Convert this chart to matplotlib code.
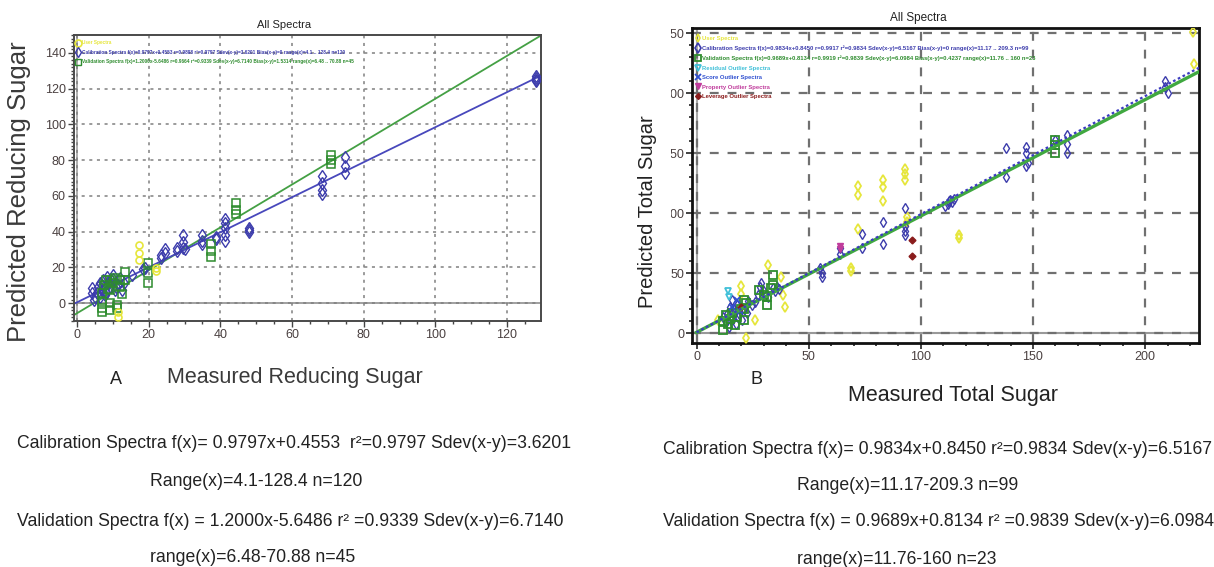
import matplotlib
matplotlib.use("Agg")
import matplotlib.pyplot as plt
from matplotlib import font_manager
from matplotlib.ticker import MultipleLocator
from matplotlib.lines import Line2D
from matplotlib.patches import Rectangle

plt.rcParams['font.family'] = ['Liberation Sans', 'DejaVu Sans']
_names = {f.name for f in font_manager.fontManager.ttflist}
NARROW = 'Liberation Sans Narrow' if 'Liberation Sans Narrow' in _names else 'Liberation Sans'

# ---- A: reducing sugar ----
calA_x = [4.1, 4.6, 5.0, 5.5, 6.4, 6.4, 6.9, 7.3, 7.8, 8.3, 8.7, 9.2, 9.6, 10.1, 10.6, 11.5,
          12.0, 12.5, 4.1, 5.8, 7.0, 8.0, 9.0, 10.0, 11.0, 13.0, 15.3, 18.5, 19.0, 23.4, 23.4,
          24.6, 24.6, 28.0, 28.0, 29.6, 29.6, 29.6, 30.0, 34.9, 34.9, 34.9, 38.9, 38.9, 41.3,
          41.3, 41.3, 41.3, 41.3, 48.0, 48.0, 48.0, 68.3, 68.3, 68.3, 68.3, 74.7, 74.7, 74.7,
          128.0, 128.0, 128.0, 128.0]
calA_y = [8.2, 1.7, 3.6, 5.4, 11.0, 3.5, 7.3, 12.9, 4.5, 14.7, 11.9, 9.1, 12.9, 15.7, 7.3, 10.0,
          13.8, 7.3, 5.4, 9.0, 10.0, 6.0, 11.0, 13.5, 9.0, 11.0, 16.0, 19.0, 19.6, 25.0, 27.0,
          30.0, 28.0, 31.0, 29.0, 38.0, 34.0, 31.0, 30.0, 38.0, 35.0, 33.0, 37.0, 36.0, 47.0,
          45.0, 42.0, 38.0, 35.0, 40.0, 41.0, 42.0, 71.0, 67.0, 63.0, 61.0, 82.0, 76.5, 72.8,
          126.0, 124.0, 127.0, 125.0]
valA_x = [6.9, 6.9, 6.9, 6.9, 7.5, 8.0, 8.5, 9.2, 9.2, 9.2, 9.2, 10.0, 10.5, 11.1, 11.1, 12.0,
          12.0, 12.5, 13.4, 13.4, 19.9, 19.9, 19.9, 37.4, 37.4, 37.4, 44.4, 44.4, 44.4, 70.8,
          70.8, 70.8]
valA_y = [5.4, 0.8, -3.0, -4.9, 10.0, 13.0, 8.0, 12.9, 7.3, -0.2, -3.9, 11.0, 14.0, -1.1, -2.5,
          12.9, 9.0, 5.0, 17.6, 12.9, 22.2, 16.6, 11.0, 33.0, 29.0, 26.0, 56.0, 52.0, 50.0,
          83.0, 80.0, 78.0]
userA_x = [17.3, 17.3, 17.3, 22.0, 22.0, 11.5, 11.5]
userA_y = [32.5, 27.8, 24.1, 19.4, 18.0, -4.9, -8.0]
fitA_cal = (0.9797, 0.4553)
fitA_val = (1.2000, -5.6486)

# ---- B: total sugar ----
calB_x = [12.0, 13.0, 13.5, 14.5, 15.0, 15.7, 16.0, 16.5, 17.0, 17.5, 18.0, 18.6, 19.0, 20.1,
          21.0, 22.4, 23.0, 24.6, 26.0, 27.5, 28.3, 28.8, 29.5, 32.0, 34.0, 35.2, 35.7, 37.0,
          55.0, 56.0, 56.0, 64.0, 64.0, 74.0, 74.0, 83.0, 83.0, 93.0, 93.0, 93.0, 93.0, 111.0,
          112.0, 112.5, 113.0, 114.0, 115.0, 138.0, 138.0, 147.0, 147.0, 147.0, 148.0, 160.0,
          165.0, 165.0, 165.0, 209.0, 209.0, 210.0]
calB_y = [13.8, 9.7, 16.0, 5.5, 22.0, 27.7, 12.0, 20.0, 18.0, 8.0, 24.0, 13.8, 16.5, 11.1,
          20.0, 16.7, 27.0, 23.6, 26.0, 32.0, 38.8, 41.5, 36.0, 30.0, 38.0, 35.2, 38.8, 37.0,
          54.5, 50.0, 47.0, 71.0, 66.0, 83.0, 71.0, 93.0, 74.0, 104.0, 89.0, 85.0, 82.0, 106.0,
          108.0, 110.0, 111.0, 109.0, 112.0, 154.0, 130.0, 155.0, 150.0, 139.0, 142.0, 161.0,
          165.0, 158.0, 150.0, 210.0, 205.0, 200.0]
valB_x = [12.0, 12.0, 13.0, 14.0, 15.0, 16.0, 17.0, 18.0, 20.0, 21.0, 21.0, 21.0, 22.0, 28.0,
          30.0, 31.6, 31.6, 33.0, 34.0, 34.0, 160.0, 160.0, 160.0]
valB_y = [3.0, 10.0, 15.0, 8.0, 12.0, 17.0, 7.0, 14.0, 20.0, 28.0, 20.0, 11.0, 25.0, 36.0,
          32.0, 30.0, 24.0, 38.0, 48.6, 40.0, 161.0, 157.0, 150.0]
userB_x = [9.6, 20.0, 20.0, 22.0, 26.0, 32.0, 37.7, 38.6, 39.5, 69.0, 69.0, 72.0, 72.0, 72.0,
           83.0, 83.0, 83.0, 93.0, 93.0, 93.0, 94.0, 94.0, 117.0, 117.0, 222.0, 221.5]
userB_y = [11.0, 39.0, 33.0, -4.0, 11.0, 57.0, 47.0, 32.0, 22.0, 54.0, 52.0, 123.0, 115.0,
           87.0, 128.0, 122.0, 110.0, 137.0, 133.0, 128.0, 97.0, 93.0, 82.0, 79.0, 224.0, 251.0]
resB_x, resB_y = [14.0, 14.5], [35.0, 30.0]
scoreB_x, scoreB_y = [16.0, 18.0, 19.5], [22.0, 28.0, 19.0]
propB_x, propB_y = [64.0, 64.0], [73.0, 70.0]
levB_x, levB_y = [96.0, 96.0, 20.0], [77.5, 64.0, 22.0]
fitB_cal = (0.9834, 0.8450)
fitB_val = (0.9689, 0.8134)

BLUE, GREEN, YEL = '#3c3cac', '#2e8c2e', '#e6e63c'
CYAN, MAG, DRED = '#40c0d8', '#c03c9c', '#8a1c1c'

fig = plt.figure(figsize=(12.14, 5.67), dpi=100)
axA = fig.add_axes([0.061, 0.4339, 0.3847, 0.5044])
axB = fig.add_axes([0.5704, 0.3956, 0.4172, 0.5545])

# ---------------- panel A ----------------
xa0, xa1 = -0.84, 129.5
axA.set_xlim(xa0, xa1); axA.set_ylim(-10, 150)
axA.axhline(0, color='#999999', lw=1.3, zorder=1)
axA.axvline(0, color='#aaaaaa', lw=1.3, zorder=1)
axA.plot([xa0, xa1], [fitA_val[0] * xa0 + fitA_val[1], fitA_val[0] * xa1 + fitA_val[1]],
         color='#44a044', lw=1.3, zorder=2)
axA.plot([xa0, xa1], [fitA_cal[0] * xa0 + fitA_cal[1], fitA_cal[0] * xa1 + fitA_cal[1]],
         color='#4848bc', lw=1.3, zorder=2)
axA.plot(calA_x, calA_y, ls='none', marker='d', ms=6, mfc='none', mec=BLUE, mew=1.0, zorder=3)
axA.plot(valA_x, valA_y, ls='none', marker='s', ms=6, mfc='none', mec=GREEN, mew=1.1, zorder=3)
axA.plot(userA_x, userA_y, ls='none', marker='o', ms=5, mfc='none', mec=YEL, mew=1.2, zorder=3)
axA.xaxis.set_major_locator(MultipleLocator(20)); axA.xaxis.set_minor_locator(MultipleLocator(5))
axA.yaxis.set_major_locator(MultipleLocator(20)); axA.yaxis.set_minor_locator(MultipleLocator(2))
axA.grid(True, which='major', ls=(0, (2, 3)), color='#808080', lw=1.1)
for s in axA.spines.values():
    s.set_color('#4a4a4a'); s.set_linewidth(1.4)
axA.tick_params(which='major', length=4, width=1, color='#444444', labelsize=9,
                labelcolor='#4a4040', pad=2)
axA.tick_params(which='minor', length=2, width=1, color='#444444')
for t in axA.get_xticklabels() + axA.get_yticklabels():
    t.set_fontfamily(NARROW)
axA.text(0.4497, 1.035, 'All Spectra', transform=axA.transAxes, ha='center', va='center',
         fontsize=8, family=NARROW, color='#222222')
axA.set_ylabel('Predicted Reducing Sugar', fontsize=18.5, color='#3a3a3a', va='center')
axA.yaxis.set_label_coords(-0.1178, 0.451)
axA.set_xlabel('Measured Reducing Sugar', fontsize=15.5, color='#3a3a3a', va='center')
axA.xaxis.set_label_coords(0.472, -0.196)

legA_labels = ['User Spectra',
               'Calibration Spectra f(x)=0.9797x+0.4553 r=0.9898 r\u00b2=0.9797 Sdev(x-y)=3.6201 '
               'Bias(x-y)=0 range(x)=4.1 .. 128.4 n=120',
               'Validation Spectra f(x)=1.2000x-5.6486 r=0.9664 r\u00b2=0.9339 Sdev(x-y)=6.7140 '
               'Bias(x-y)=1.5314 range(x)=6.48 .. 70.88 n=45']
legA_handles = [Line2D([], [], ls='none', marker='o', ms=5, mfc='none', mec=YEL, mew=1.2),
                Line2D([], [], ls='none', marker='d', ms=5, mfc='none', mec=BLUE, mew=1.0),
                Line2D([], [], ls='none', marker='s', ms=5, mfc='none', mec=GREEN, mew=1.0)]
axA.legend(legA_handles, legA_labels, loc='upper left', bbox_to_anchor=(0.0, 0.99),
           frameon=False, handlelength=0.8, handletextpad=0.4,
           labelspacing=0.95, borderaxespad=0.1, labelcolor=[YEL, BLUE, GREEN],
           prop={'weight': 'bold', 'size': 3.4})

# ---------------- panel B ----------------
xb0, xb1 = -1.8, 224
axB.set_xlim(xb0, xb1); axB.set_ylim(-7.8, 254)
axB.axhline(0, color='#999999', lw=1.5, zorder=1)
axB.axvline(0, color='#aaaaaa', lw=1.5, zorder=1)
axB.plot([0, xb1], [fitB_val[1], fitB_val[0] * xb1 + fitB_val[1]], color='#40a840', lw=2.4, zorder=4)
axB.plot([0, xb1], [fitB_cal[1], fitB_cal[0] * xb1 + fitB_cal[1]], color='#3c3cc0', lw=1.6,
         ls=(0, (1.2, 1.2)), zorder=4)
axB.plot(userB_x, userB_y, ls='none', marker='d', ms=5, mfc='none', mec=YEL, mew=1.3, zorder=3)
axB.plot(calB_x, calB_y, ls='none', marker='d', ms=5.5, mfc='none', mec=BLUE, mew=1.0, zorder=3)
axB.plot(valB_x, valB_y, ls='none', marker='s', ms=6, mfc='none', mec=GREEN, mew=1.3, zorder=3)
axB.plot(resB_x, resB_y, ls='none', marker='v', ms=5, mfc='none', mec=CYAN, mew=1.3, zorder=3)
axB.plot(scoreB_x, scoreB_y, ls='none', marker='x', ms=5, mec='#3050d0', mew=1.3, zorder=3)
axB.plot(propB_x, propB_y, ls='none', marker='v', ms=5, mfc=MAG, mec=MAG, zorder=3)
axB.plot(levB_x, levB_y, ls='none', marker='D', ms=3.5, mfc=DRED, mec=DRED, zorder=3)
axB.xaxis.set_major_locator(MultipleLocator(50)); axB.xaxis.set_minor_locator(MultipleLocator(10))
axB.yaxis.set_major_locator(MultipleLocator(50)); axB.yaxis.set_minor_locator(MultipleLocator(10))
axB.grid(True, which='major', ls=(0, (4, 4)), color='#707070', lw=1.6)
for s in axB.spines.values():
    s.set_color('#111111'); s.set_linewidth(2.0)
axB.tick_params(which='major', length=4, width=1.2, color='#222222', labelsize=9,
                labelcolor='#4a4040', pad=2)
axB.tick_params(which='minor', length=2.5, width=1.2, color='#222222')
for t in axB.get_xticklabels() + axB.get_yticklabels():
    t.set_fontfamily(NARROW)
axB.text(0.445, 1.033, 'All Spectra', transform=axB.transAxes, ha='center', va='center',
         fontsize=8.5, family=NARROW, color='#222222')
axB.set_ylabel('Predicted Total Sugar', fontsize=14.5, color='#222222', va='center')
axB.yaxis.set_label_coords(-0.0879, 0.4157)
axB.set_xlabel('Measured Total Sugar', fontsize=15.5, color='#222222', va='center')
axB.xaxis.set_label_coords(0.514, -0.1695)

legB_labels = ['User Spectra',
               'Calibration Spectra f(x)=0.9834x+0.8450 r=0.9917 r\u00b2=0.9834 Sdev(x-y)=6.5167 '
               'Bias(x-y)=0 range(x)=11.17 .. 209.3 n=99',
               'Validation Spectra f(x)=0.9689x+0.8134 r=0.9919 r\u00b2=0.9839 Sdev(x-y)=6.0984 '
               'Bias(x-y)=0.4237 range(x)=11.76 .. 160 n=23',
               'Residual Outlier Spectra', 'Score Outlier Spectra',
               'Property Outlier Spectra', 'Leverage Outlier Spectra']
legB_handles = [Line2D([], [], ls='none', marker='d', ms=4, mfc='none', mec=YEL, mew=1.2),
                Line2D([], [], ls='none', marker='d', ms=5, mfc='none', mec=BLUE, mew=1.2),
                Line2D([], [], ls='none', marker='s', ms=5, mfc='none', mec=GREEN, mew=1.3),
                Line2D([], [], ls='none', marker='v', ms=5, mfc='none', mec=CYAN, mew=1.3),
                Line2D([], [], ls='none', marker='x', ms=5, mec='#3050d0', mew=1.3),
                Line2D([], [], ls='none', marker='v', ms=5, mfc=MAG, mec=MAG),
                Line2D([], [], ls='none', marker='D', ms=3, mfc=DRED, mec=DRED)]
axB.legend(legB_handles, legB_labels, loc='upper left', bbox_to_anchor=(0.0, 0.985),
           frameon=False, handlelength=0.8, handletextpad=0.4, labelspacing=0.75,
           borderaxespad=0.1, labelcolor=[YEL, BLUE, GREEN, CYAN, '#3050d0', MAG, DRED],
           prop={'weight': 'bold', 'size': 4.2})

# crop the left part of B's y tick labels as in the source figure
fig.add_artist(Rectangle((659 / 1214, 1 - 350 / 567), 12 / 1214, 340 / 567,
                         transform=fig.transFigure, facecolor='white', edgecolor='none',
                         zorder=10))

fig.text(116 / 1214, 1 - 380 / 567, 'A', fontsize=13, ha='center', va='center', color='#222222')
fig.text(757 / 1214, 1 - 380 / 567, 'B', fontsize=13, ha='center', va='center', color='#222222')

# ---------------- statistics under each panel ----------------
TXT = dict(fontsize=12.7, color='#222222', va='center', ha='left')
fig.text(17 / 1214, 1 - 444 / 567,
         'Calibration Spectra f(x)= 0.9797x+0.4553  r\u00b2=0.9797 Sdev(x-y)=3.6201', **TXT)
fig.text(150 / 1214, 1 - 482 / 567, 'Range(x)=4.1-128.4 n=120', **TXT)
fig.text(17 / 1214, 1 - 521 / 567,
         'Validation Spectra f(x) = 1.2000x-5.6486 r\u00b2 =0.9339 Sdev(x-y)=6.7140', **TXT)
fig.text(150 / 1214, 1 - 557 / 567, 'range(x)=6.48-70.88 n=45', **TXT)

fig.text(663 / 1214, 1 - 449 / 567,
         'Calibration Spectra f(x)= 0.9834x+0.8450 r\u00b2=0.9834 Sdev(x-y)=6.5167', **TXT)
fig.text(797 / 1214, 1 - 486 / 567, 'Range(x)=11.17-209.3 n=99', **TXT)
fig.text(663 / 1214, 1 - 522 / 567,
         'Validation Spectra f(x) = 0.9689x+0.8134 r\u00b2 =0.9839 Sdev(x-y)=6.0984', **TXT)
fig.text(797 / 1214, 1 - 559 / 567, 'range(x)=11.76-160 n=23', **TXT)

fig.savefig('out.png', dpi=100)
